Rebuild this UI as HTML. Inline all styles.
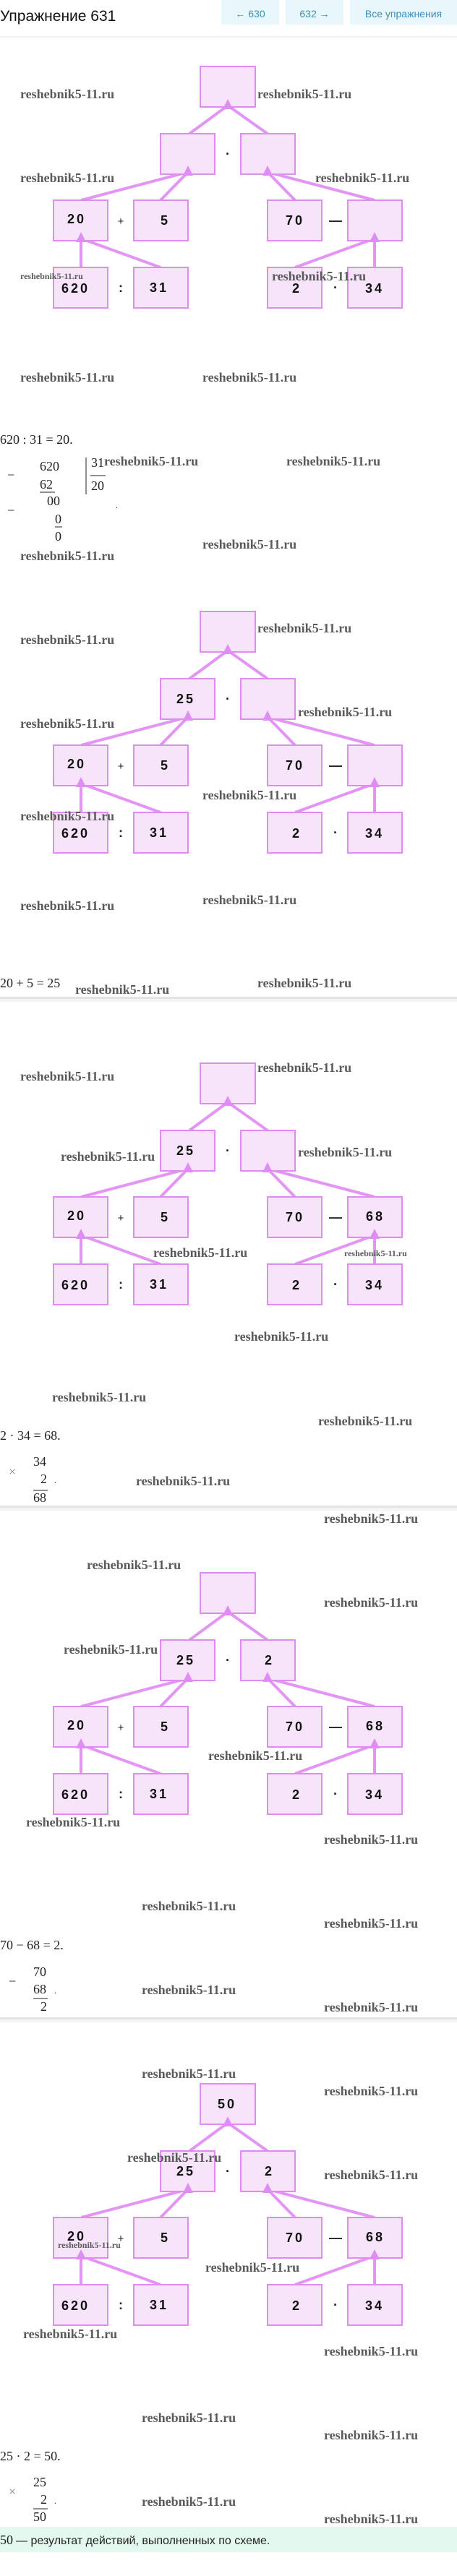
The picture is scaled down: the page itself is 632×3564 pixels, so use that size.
<!DOCTYPE html>
<html><head><meta charset="utf-8">
<style>
html,body{margin:0;padding:0;background:#fff;}
body{width:632px;height:3564px;overflow:hidden;position:relative;}
svg{display:block;}
.bx{fill:#f7e4fb;stroke:#de8cf0;stroke-width:2;}
.ln{stroke:#e394f5;stroke-width:4;fill:none;}
.ah{fill:#e08cf5;}
.lb{font-family:"Liberation Sans",sans-serif;font-size:18px;font-weight:bold;fill:#111;letter-spacing:3px;}
.op{font-family:"Liberation Sans",sans-serif;font-size:18px;font-weight:bold;fill:#222;}
.wm{font-family:"Liberation Serif",serif;font-weight:bold;font-size:18px;fill:#5a5a5a;}
.wms{font-family:"Liberation Serif",serif;font-weight:bold;font-size:12px;fill:#5a5a5a;}
.m{font-family:"Liberation Serif",serif;font-size:18px;fill:#222;}
</style></head><body>
<svg width="632" height="3564" viewBox="0 0 632 3564" xmlns="http://www.w3.org/2000/svg">
<!-- header -->
<text x="0" y="29" style="font-family:'Liberation Sans',sans-serif;font-size:21px;fill:#111;">Упражнение 631</text>
<rect x="306" y="0" width="80" height="34" fill="#e8f7fb"/>
<text x="346" y="24" text-anchor="middle" style="font-family:'Liberation Sans',sans-serif;font-size:14px;fill:#3b8fb3;">← 630</text>
<rect x="395" y="0" width="80" height="34" fill="#e8f7fb"/>
<text x="435" y="24" text-anchor="middle" style="font-family:'Liberation Sans',sans-serif;font-size:14px;fill:#3b8fb3;">632 →</text>
<rect x="484" y="0" width="148" height="34" fill="#e8f7fb"/>
<text x="558" y="24" text-anchor="middle" style="font-family:'Liberation Sans',sans-serif;font-size:14px;fill:#3b8fb3;">Все упражнения</text>
<rect x="0" y="50" width="632" height="2" fill="#f0f0f0"/>

<!-- diagram template repeated -->
<g id="d1" transform="translate(0,92)">
<line class="ln" x1="262" y1="93" x2="315" y2="54"/><line class="ln" x1="370" y1="93" x2="315" y2="54"/>
<line class="ln" x1="112" y1="185" x2="260" y2="146"/><line class="ln" x1="222" y1="185" x2="260" y2="146"/>
<line class="ln" x1="408" y1="185" x2="370" y2="146"/><line class="ln" x1="518" y1="185" x2="370" y2="146"/>
<line class="ln" x1="112" y1="278" x2="112" y2="238"/><line class="ln" x1="222" y1="278" x2="112" y2="238"/>
<line class="ln" x1="408" y1="278" x2="518" y2="238"/><line class="ln" x1="518" y1="278" x2="518" y2="238"/>
<rect class="bx" x="277" y="0" width="76" height="56"/>
<rect class="bx" x="222" y="93" width="75" height="56"/><rect class="bx" x="333" y="93" width="75" height="56"/>
<rect class="bx" x="74" y="185" width="75" height="56"/><rect class="bx" x="185" y="185" width="75" height="56"/>
<rect class="bx" x="370" y="185" width="75" height="56"/><rect class="bx" x="481" y="185" width="75" height="56"/>
<rect class="bx" x="74" y="278" width="75" height="56"/><rect class="bx" x="185" y="278" width="75" height="56"/>
<rect class="bx" x="370" y="278" width="75" height="56"/><rect class="bx" x="481" y="278" width="75" height="56"/>
<polygon class="ah" points="315,45 308,59 322,59"/>
<polygon class="ah" points="260,137 253,151 267,151"/><polygon class="ah" points="370,137 363,151 377,151"/>
<polygon class="ah" points="112,229 105,243 119,243"/><polygon class="ah" points="518,229 511,243 525,243"/>
<text class="op" x="315" y="127" text-anchor="middle">·</text>
<text class="op" x="167" y="219" text-anchor="middle" style="font-weight:normal;font-size:15px;">+</text>
<text class="op" x="464" y="219" text-anchor="middle">—</text>
<text class="op" x="167" y="312" text-anchor="middle">:</text>
<text class="op" x="464" y="312" text-anchor="middle">·</text>
<text class="lb" x="93" y="217">20</text><text class="lb" x="222" y="219">5</text>
<text class="lb" x="395" y="219">70</text>
<text class="lb" x="85" y="313">620</text><text class="lb" x="207" y="312">31</text>
<text class="lb" x="404" y="313">2</text><text class="lb" x="505" y="313">34</text>
</g>

<g transform="translate(0,846)">
<line class="ln" x1="262" y1="93" x2="315" y2="54"/><line class="ln" x1="370" y1="93" x2="315" y2="54"/>
<line class="ln" x1="112" y1="185" x2="260" y2="146"/><line class="ln" x1="222" y1="185" x2="260" y2="146"/>
<line class="ln" x1="408" y1="185" x2="370" y2="146"/><line class="ln" x1="518" y1="185" x2="370" y2="146"/>
<line class="ln" x1="112" y1="278" x2="112" y2="238"/><line class="ln" x1="222" y1="278" x2="112" y2="238"/>
<line class="ln" x1="408" y1="278" x2="518" y2="238"/><line class="ln" x1="518" y1="278" x2="518" y2="238"/>
<rect class="bx" x="277" y="0" width="76" height="56"/>
<rect class="bx" x="222" y="93" width="75" height="56"/><rect class="bx" x="333" y="93" width="75" height="56"/>
<rect class="bx" x="74" y="185" width="75" height="56"/><rect class="bx" x="185" y="185" width="75" height="56"/>
<rect class="bx" x="370" y="185" width="75" height="56"/><rect class="bx" x="481" y="185" width="75" height="56"/>
<rect class="bx" x="74" y="278" width="75" height="56"/><rect class="bx" x="185" y="278" width="75" height="56"/>
<rect class="bx" x="370" y="278" width="75" height="56"/><rect class="bx" x="481" y="278" width="75" height="56"/>
<polygon class="ah" points="315,45 308,59 322,59"/>
<polygon class="ah" points="260,137 253,151 267,151"/><polygon class="ah" points="370,137 363,151 377,151"/>
<polygon class="ah" points="112,229 105,243 119,243"/><polygon class="ah" points="518,229 511,243 525,243"/>
<text class="op" x="315" y="127" text-anchor="middle">·</text>
<text class="op" x="167" y="219" text-anchor="middle" style="font-weight:normal;font-size:15px;">+</text>
<text class="op" x="464" y="219" text-anchor="middle">—</text>
<text class="op" x="167" y="312" text-anchor="middle">:</text>
<text class="op" x="464" y="312" text-anchor="middle">·</text>
<text class="lb" x="244" y="127">25</text>
<text class="lb" x="93" y="217">20</text><text class="lb" x="222" y="219">5</text>
<text class="lb" x="395" y="219">70</text>
<text class="lb" x="85" y="313">620</text><text class="lb" x="207" y="312">31</text>
<text class="lb" x="404" y="313">2</text><text class="lb" x="505" y="313">34</text>
</g>

<g transform="translate(0,1471)">
<line class="ln" x1="262" y1="93" x2="315" y2="54"/><line class="ln" x1="370" y1="93" x2="315" y2="54"/>
<line class="ln" x1="112" y1="185" x2="260" y2="146"/><line class="ln" x1="222" y1="185" x2="260" y2="146"/>
<line class="ln" x1="408" y1="185" x2="370" y2="146"/><line class="ln" x1="518" y1="185" x2="370" y2="146"/>
<line class="ln" x1="112" y1="278" x2="112" y2="238"/><line class="ln" x1="222" y1="278" x2="112" y2="238"/>
<line class="ln" x1="408" y1="278" x2="518" y2="238"/><line class="ln" x1="518" y1="278" x2="518" y2="238"/>
<rect class="bx" x="277" y="0" width="76" height="56"/>
<rect class="bx" x="222" y="93" width="75" height="56"/><rect class="bx" x="333" y="93" width="75" height="56"/>
<rect class="bx" x="74" y="185" width="75" height="56"/><rect class="bx" x="185" y="185" width="75" height="56"/>
<rect class="bx" x="370" y="185" width="75" height="56"/><rect class="bx" x="481" y="185" width="75" height="56"/>
<rect class="bx" x="74" y="278" width="75" height="56"/><rect class="bx" x="185" y="278" width="75" height="56"/>
<rect class="bx" x="370" y="278" width="75" height="56"/><rect class="bx" x="481" y="278" width="75" height="56"/>
<polygon class="ah" points="315,45 308,59 322,59"/>
<polygon class="ah" points="260,137 253,151 267,151"/><polygon class="ah" points="370,137 363,151 377,151"/>
<polygon class="ah" points="112,229 105,243 119,243"/><polygon class="ah" points="518,229 511,243 525,243"/>
<text class="op" x="315" y="127" text-anchor="middle">·</text>
<text class="op" x="167" y="219" text-anchor="middle" style="font-weight:normal;font-size:15px;">+</text>
<text class="op" x="464" y="219" text-anchor="middle">—</text>
<text class="op" x="167" y="312" text-anchor="middle">:</text>
<text class="op" x="464" y="312" text-anchor="middle">·</text>
<text class="lb" x="244" y="127">25</text>
<text class="lb" x="93" y="217">20</text><text class="lb" x="222" y="219">5</text>
<text class="lb" x="395" y="219">70</text><text class="lb" x="506" y="218">68</text>
<text class="lb" x="85" y="313">620</text><text class="lb" x="207" y="312">31</text>
<text class="lb" x="404" y="313">2</text><text class="lb" x="505" y="313">34</text>
</g>

<g transform="translate(0,2176)">
<line class="ln" x1="262" y1="93" x2="315" y2="54"/><line class="ln" x1="370" y1="93" x2="315" y2="54"/>
<line class="ln" x1="112" y1="185" x2="260" y2="146"/><line class="ln" x1="222" y1="185" x2="260" y2="146"/>
<line class="ln" x1="408" y1="185" x2="370" y2="146"/><line class="ln" x1="518" y1="185" x2="370" y2="146"/>
<line class="ln" x1="112" y1="278" x2="112" y2="238"/><line class="ln" x1="222" y1="278" x2="112" y2="238"/>
<line class="ln" x1="408" y1="278" x2="518" y2="238"/><line class="ln" x1="518" y1="278" x2="518" y2="238"/>
<rect class="bx" x="277" y="0" width="76" height="56"/>
<rect class="bx" x="222" y="93" width="75" height="56"/><rect class="bx" x="333" y="93" width="75" height="56"/>
<rect class="bx" x="74" y="185" width="75" height="56"/><rect class="bx" x="185" y="185" width="75" height="56"/>
<rect class="bx" x="370" y="185" width="75" height="56"/><rect class="bx" x="481" y="185" width="75" height="56"/>
<rect class="bx" x="74" y="278" width="75" height="56"/><rect class="bx" x="185" y="278" width="75" height="56"/>
<rect class="bx" x="370" y="278" width="75" height="56"/><rect class="bx" x="481" y="278" width="75" height="56"/>
<polygon class="ah" points="315,45 308,59 322,59"/>
<polygon class="ah" points="260,137 253,151 267,151"/><polygon class="ah" points="370,137 363,151 377,151"/>
<polygon class="ah" points="112,229 105,243 119,243"/><polygon class="ah" points="518,229 511,243 525,243"/>
<text class="op" x="315" y="127" text-anchor="middle">·</text>
<text class="op" x="167" y="219" text-anchor="middle" style="font-weight:normal;font-size:15px;">+</text>
<text class="op" x="464" y="219" text-anchor="middle">—</text>
<text class="op" x="167" y="312" text-anchor="middle">:</text>
<text class="op" x="464" y="312" text-anchor="middle">·</text>
<text class="lb" x="244" y="127">25</text><text class="lb" x="366" y="127">2</text>
<text class="lb" x="93" y="217">20</text><text class="lb" x="222" y="219">5</text>
<text class="lb" x="395" y="219">70</text><text class="lb" x="506" y="218">68</text>
<text class="lb" x="85" y="313">620</text><text class="lb" x="207" y="312">31</text>
<text class="lb" x="404" y="313">2</text><text class="lb" x="505" y="313">34</text>
</g>

<g transform="translate(0,2883)">
<line class="ln" x1="262" y1="93" x2="315" y2="54"/><line class="ln" x1="370" y1="93" x2="315" y2="54"/>
<line class="ln" x1="112" y1="185" x2="260" y2="146"/><line class="ln" x1="222" y1="185" x2="260" y2="146"/>
<line class="ln" x1="408" y1="185" x2="370" y2="146"/><line class="ln" x1="518" y1="185" x2="370" y2="146"/>
<line class="ln" x1="112" y1="278" x2="112" y2="238"/><line class="ln" x1="222" y1="278" x2="112" y2="238"/>
<line class="ln" x1="408" y1="278" x2="518" y2="238"/><line class="ln" x1="518" y1="278" x2="518" y2="238"/>
<rect class="bx" x="277" y="0" width="76" height="56"/>
<rect class="bx" x="222" y="93" width="75" height="56"/><rect class="bx" x="333" y="93" width="75" height="56"/>
<rect class="bx" x="74" y="185" width="75" height="56"/><rect class="bx" x="185" y="185" width="75" height="56"/>
<rect class="bx" x="370" y="185" width="75" height="56"/><rect class="bx" x="481" y="185" width="75" height="56"/>
<rect class="bx" x="74" y="278" width="75" height="56"/><rect class="bx" x="185" y="278" width="75" height="56"/>
<rect class="bx" x="370" y="278" width="75" height="56"/><rect class="bx" x="481" y="278" width="75" height="56"/>
<polygon class="ah" points="315,45 308,59 322,59"/>
<polygon class="ah" points="260,137 253,151 267,151"/><polygon class="ah" points="370,137 363,151 377,151"/>
<polygon class="ah" points="112,229 105,243 119,243"/><polygon class="ah" points="518,229 511,243 525,243"/>
<text class="op" x="315" y="127" text-anchor="middle">·</text>
<text class="op" x="167" y="219" text-anchor="middle" style="font-weight:normal;font-size:15px;">+</text>
<text class="op" x="464" y="219" text-anchor="middle">—</text>
<text class="op" x="167" y="312" text-anchor="middle">:</text>
<text class="op" x="464" y="312" text-anchor="middle">·</text>
<text class="lb" x="301" y="34">50</text>
<text class="lb" x="244" y="127">25</text><text class="lb" x="366" y="127">2</text>
<text class="lb" x="93" y="217">20</text><text class="lb" x="222" y="219">5</text>
<text class="lb" x="395" y="219">70</text><text class="lb" x="506" y="218">68</text>
<text class="lb" x="85" y="313">620</text><text class="lb" x="207" y="312">31</text>
<text class="lb" x="404" y="313">2</text><text class="lb" x="505" y="313">34</text>
</g>

<!-- separators -->
<rect x="0" y="1379" width="632" height="3" fill="#e4e4e4"/><rect x="0" y="1382" width="632" height="4" fill="#f4f4f4"/>
<rect x="0" y="2083" width="632" height="3" fill="#e4e4e4"/><rect x="0" y="2086" width="632" height="4" fill="#f4f4f4"/>
<rect x="0" y="2791" width="632" height="3" fill="#e4e4e4"/><rect x="0" y="2794" width="632" height="4" fill="#f4f4f4"/>

<!-- math 1 -->
<text class="m" x="0" y="614">620 : 31 = 20.</text>
<text class="m" x="10" y="663">−</text>
<text class="m" x="55" y="651">620</text>
<text class="m" x="55" y="676">62</text>
<line x1="55" y1="681" x2="76" y2="681" stroke="#222" stroke-width="1"/>
<text class="m" x="65" y="699">00</text>
<text class="m" x="10" y="712">−</text>
<text class="m" x="76" y="724">0</text>
<line x1="76" y1="729" x2="86" y2="729" stroke="#222" stroke-width="1"/>
<text class="m" x="76" y="748">0</text>
<line x1="119" y1="633" x2="119" y2="684" stroke="#222" stroke-width="1"/>
<text class="m" x="126" y="646">31</text>
<line x1="125" y1="658" x2="146" y2="658" stroke="#222" stroke-width="1"/>
<text class="m" x="126" y="678">20</text>
<text class="m" x="160" y="703" style="font-size:12px">.</text>

<!-- math 2 -->
<text class="m" x="0" y="1366">20 + 5 = 25</text>

<!-- math 3 -->
<text class="m" x="0" y="1992">2 · 34 = 68.</text>
<text class="m" x="46" y="2028">34</text>
<text class="m" x="12" y="2042" style="fill:#888">×</text>
<text class="m" x="56" y="2052">2</text>
<text class="m" x="75" y="2052" style="font-size:12px">.</text>
<line x1="46" y1="2062" x2="66" y2="2062" stroke="#222" stroke-width="1"/>
<text class="m" x="46" y="2078">68</text>

<!-- math 4 -->
<text class="m" x="0" y="2697">70 − 68 = 2.</text>
<text class="m" x="46" y="2734">70</text>
<text class="m" x="12" y="2747">−</text>
<text class="m" x="46" y="2758">68</text>
<text class="m" x="75" y="2758" style="font-size:12px">.</text>
<line x1="46" y1="2765" x2="66" y2="2765" stroke="#222" stroke-width="1"/>
<text class="m" x="56" y="2782">2</text>

<!-- math 5 -->
<text class="m" x="0" y="3404">25 · 2 = 50.</text>
<text class="m" x="46" y="3440">25</text>
<text class="m" x="12" y="3453" style="fill:#888">×</text>
<text class="m" x="56" y="3464">2</text>
<text class="m" x="75" y="3464" style="font-size:12px">.</text>
<line x1="46" y1="3471" x2="66" y2="3471" stroke="#222" stroke-width="1"/>
<text class="m" x="46" y="3488">50</text>

<rect x="0" y="3496" width="632" height="35" fill="#e3f8ee"/>
<text x="0" y="3520" class="m">50</text>
<text x="22" y="3520" style="font-family:'Liberation Sans',sans-serif;font-size:16px;fill:#222;"> — результат действий, выполненных по схеме.</text>

<!-- watermarks -->
<g>
<text class="wm" x="28" y="136">reshebnik5-11.ru</text>
<text class="wm" x="356" y="136">reshebnik5-11.ru</text>
<text class="wm" x="28" y="252">reshebnik5-11.ru</text>
<text class="wm" x="436" y="252">reshebnik5-11.ru</text>
<text class="wms" x="28" y="386">reshebnik5-11.ru</text>
<text class="wm" x="376" y="388">reshebnik5-11.ru</text>
<text class="wm" x="28" y="528">reshebnik5-11.ru</text>
<text class="wm" x="280" y="528">reshebnik5-11.ru</text>
<text class="wm" x="144" y="644">reshebnik5-11.ru</text>
<text class="wm" x="396" y="644">reshebnik5-11.ru</text>
<text class="wm" x="280" y="759">reshebnik5-11.ru</text>
<text class="wm" x="28" y="775">reshebnik5-11.ru</text>
<text class="wm" x="356" y="875">reshebnik5-11.ru</text>
<text class="wm" x="28" y="891">reshebnik5-11.ru</text>
<text class="wm" x="412" y="991">reshebnik5-11.ru</text>
<text class="wm" x="28" y="1007">reshebnik5-11.ru</text>
<text class="wm" x="280" y="1106">reshebnik5-11.ru</text>
<text class="wm" x="28" y="1135">reshebnik5-11.ru</text>
<text class="wm" x="28" y="1259">reshebnik5-11.ru</text>
<text class="wm" x="280" y="1251">reshebnik5-11.ru</text>
<text class="wm" x="104" y="1375">reshebnik5-11.ru</text>
<text class="wm" x="356" y="1366">reshebnik5-11.ru</text>
<text class="wm" x="28" y="1495">reshebnik5-11.ru</text>
<text class="wm" x="356" y="1483">reshebnik5-11.ru</text>
<text class="wm" x="412" y="1600">reshebnik5-11.ru</text>
<text class="wm" x="84" y="1606">reshebnik5-11.ru</text>
<text class="wm" x="212" y="1739">reshebnik5-11.ru</text>
<text class="wms" x="476" y="1738">reshebnik5-11.ru</text>
<text class="wm" x="324" y="1855">reshebnik5-11.ru</text>
<text class="wm" x="72" y="1939">reshebnik5-11.ru</text>
<text class="wm" x="440" y="1972">reshebnik5-11.ru</text>
<text class="wm" x="188" y="2055">reshebnik5-11.ru</text>
<text class="wm" x="448" y="2107">reshebnik5-11.ru</text>
<text class="wm" x="120" y="2171">reshebnik5-11.ru</text>
<text class="wm" x="448" y="2223">reshebnik5-11.ru</text>
<text class="wm" x="88" y="2288">reshebnik5-11.ru</text>
<text class="wm" x="288" y="2435">reshebnik5-11.ru</text>
<text class="wm" x="36" y="2527">reshebnik5-11.ru</text>
<text class="wm" x="448" y="2551">reshebnik5-11.ru</text>
<text class="wm" x="196" y="2643">reshebnik5-11.ru</text>
<text class="wm" x="448" y="2667">reshebnik5-11.ru</text>
<text class="wm" x="196" y="2759">reshebnik5-11.ru</text>
<text class="wm" x="448" y="2783">reshebnik5-11.ru</text>
<text class="wm" x="196" y="2875">reshebnik5-11.ru</text>
<text class="wm" x="448" y="2899">reshebnik5-11.ru</text>
<text class="wm" x="176" y="2991">reshebnik5-11.ru</text>
<text class="wm" x="448" y="3015">reshebnik5-11.ru</text>
<text class="wms" x="80" y="3110">reshebnik5-11.ru</text>
<text class="wm" x="284" y="3143">reshebnik5-11.ru</text>
<text class="wm" x="32" y="3235">reshebnik5-11.ru</text>
<text class="wm" x="448" y="3259">reshebnik5-11.ru</text>
<text class="wm" x="196" y="3351">reshebnik5-11.ru</text>
<text class="wm" x="448" y="3375">reshebnik5-11.ru</text>
<text class="wm" x="196" y="3467">reshebnik5-11.ru</text>
<text class="wm" x="448" y="3491">reshebnik5-11.ru</text>
</g>
</svg>
</body></html>
